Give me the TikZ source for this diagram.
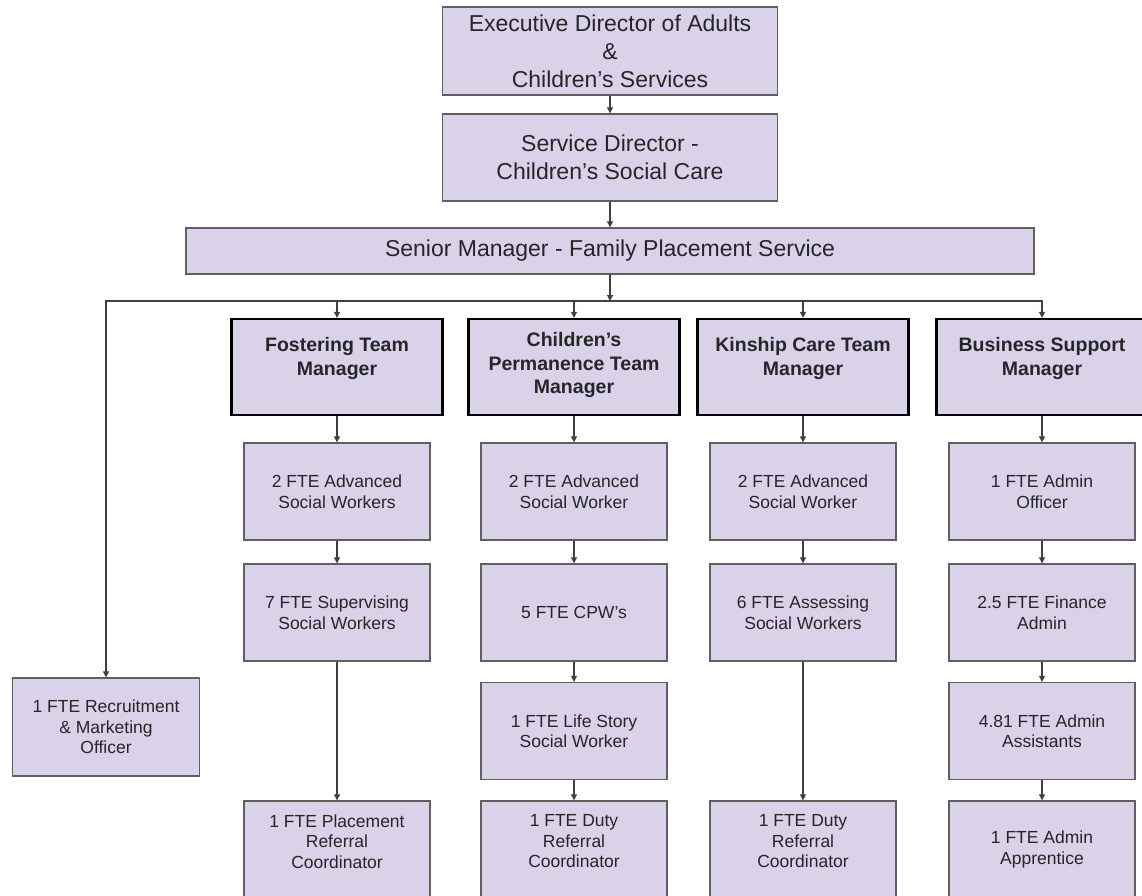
\documentclass[tikz,border=0pt]{standalone}
\usepackage{fontspec}
\setmainfont{Liberation Sans}
\usetikzlibrary{arrows.meta}
\definecolor{boxfill}{HTML}{D9D2E9}
\definecolor{boxline}{HTML}{5F5F5F}
\definecolor{linkline}{HTML}{404040}
\definecolor{inktext}{HTML}{262626}
\tikzset{
	headbox/.style={draw=boxline, line width=1.3pt, fill=boxfill, align=center, text=inktext, font=\fontsize{23}{28}\selectfont},
	mgrbox/.style={draw=black, line width=2.3pt, fill=boxfill, minimum width=211pt, minimum height=96pt},
	mgrtext/.style={anchor=north, yshift=-11pt, align=center, text=inktext, font=\bfseries\fontsize{19.5}{23.5}\selectfont},
	mgrtwo/.style={mgrtext, yshift=-5pt},
	staffbox/.style={draw=boxline, line width=1.3pt, fill=boxfill, minimum width=186pt, minimum height=97pt, align=center, text=inktext, font=\fontsize{17.5}{20.5}\selectfont},
	conn/.style={draw=linkline, line width=1.1pt, -{Triangle[length=6pt,width=6pt]}}
}
\begin{document}
\begin{tikzpicture}[x=1pt, y=-1pt]
		\useasboundingbox (0,0) rectangle (1142,895);
		\clip (0,0) rectangle (1142,895);
		\node[headbox, minimum width=335pt, minimum height=88pt] (exec) at (610,51) {Executive Director of Adults\\\&\\Children’s Services};
		\node[headbox, minimum width=335pt, minimum height=87pt] (sd) at (610,157.5) {Service Director -\\Children’s Social Care};
		\node[headbox, minimum width=848pt, minimum height=46pt] (sm) at (610,251) {Senior Manager - Family Placement Service};
		\coordinate (hub) at (610,301);
		\node[mgrbox, label={[mgrtwo]north:Fostering Team\\Manager}] (fos) at (337,367) {};
		\node[mgrbox, label={[mgrtext]north:Children’s\\Permanence Team\\Manager}] (cpt) at (574,367) {};
		\node[mgrbox, label={[mgrtwo]north:Kinship Care Team\\Manager}] (kin) at (803,367) {};
		\node[mgrbox, label={[mgrtwo]north:Business Support\\Manager}] (bsm) at (1042,367) {};
		\node[staffbox, minimum width=187pt, minimum height=98pt] (rec) at (106,727) {1 FTE Recruitment\\\& Marketing\\Officer};
		\node[staffbox] (fos2) at (337,491.5) {2 FTE Advanced\\Social Workers};
		\node[staffbox] (fos3) at (337,612.5) {7 FTE Supervising\\Social Workers};
		\node[staffbox] (fos5) at (337,849.5) {1 FTE Placement\\Referral\\Coordinator\\[-4pt]\mbox{}};
		\node[staffbox] (cpt2) at (574,491.5) {2 FTE Advanced\\Social Worker};
		\node[staffbox] (cpt3) at (574,612.5) {5 FTE CPW’s};
		\node[staffbox] (cpt4) at (574,731) {1 FTE Life Story\\Social Worker};
		\node[staffbox] (cpt5) at (574,849.5) {1 FTE Duty\\Referral\\Coordinator\\[-4pt]\mbox{}};
		\node[staffbox] (kin2) at (803,491.5) {2 FTE Advanced\\Social Worker};
		\node[staffbox] (kin3) at (803,612.5) {6 FTE Assessing\\Social Workers};
		\node[staffbox] (kin5) at (803,849.5) {1 FTE Duty\\Referral\\Coordinator\\[-4pt]\mbox{}};
		\node[staffbox] (bsm2) at (1042,491.5) {1 FTE Admin\\Officer};
		\node[staffbox] (bsm3) at (1042,612.5) {2.5 FTE Finance\\Admin};
		\node[staffbox] (bsm4) at (1042,731) {4.81 FTE Admin\\Assistants};
		\node[staffbox] (bsm5) at (1042,849.5) {1 FTE Admin\\Apprentice};
		\draw[conn] (exec) -- (sd);
		\draw[conn] (sd) -- (sm);
		\draw[conn] (sm) -- (hub);
		\draw[conn] (hub) -| (rec);
		\draw[conn] (hub) -| (bsm);
		\foreach \m in {fos,cpt,kin}
			\draw[conn] (\m |- hub) -- (\m);
		\foreach \a/\b in {fos/fos2,fos2/fos3,fos3/fos5,cpt/cpt2,cpt2/cpt3,cpt3/cpt4,cpt4/cpt5,kin/kin2,kin2/kin3,kin3/kin5,bsm/bsm2,bsm2/bsm3,bsm3/bsm4,bsm4/bsm5}
			\draw[conn] (\a) -- (\b);
	\end{tikzpicture}
\end{document}
